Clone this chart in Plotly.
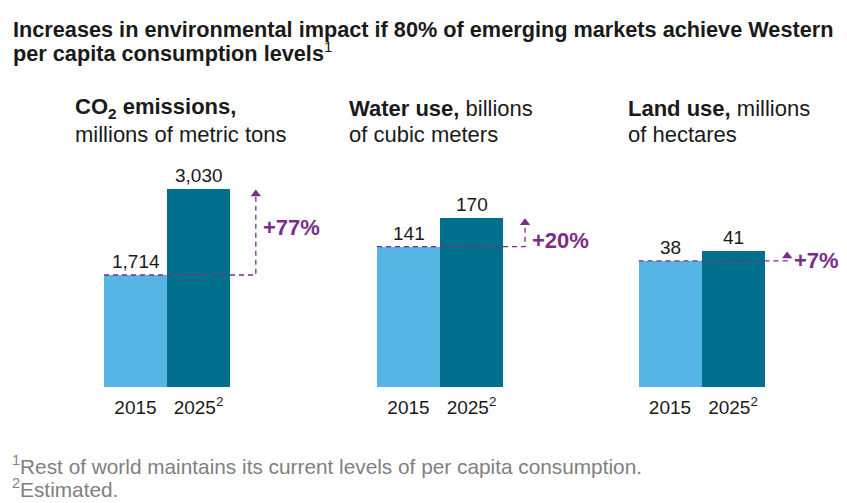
import plotly.graph_objs as go

# Donnees
years = ["2015", "2025<sup>2</sup>"]
co2_values = [1714, 3030]
water_values = [141, 170]
land_values = [38, 41]
pct_labels = ["+77%", "+20%", "+7%"]

panel_titles = [
    ("<b>CO<sub>2</sub> emissions,</b>", "millions of metric tons"),
    ("<b>Water use,</b> billions", "of cubic meters"),
    ("<b>Land use,</b> millions", "of hectares"),
]

title_lines = [
    "<b>Increases in environmental impact if 80% of emerging markets achieve Western</b>",
    "<b>per capita consumption levels</b><sup>1</sup>",
]
footnotes = [
    "<sup>1</sup>Rest of world maintains its current levels of per capita consumption.",
    "<sup>2</sup>Estimated.",
]

# Couleurs et mise en page
LIGHT = "#56b5e5"
DARK = "#00708c"
PURPLE = "#7a2e8a"
TEXT = "#1a1a1a"
GREY = "#808080"
FONT = "Liberation Sans, Arial, sans-serif"

# la page ajoute une marge de 8px autour de la figure
OFF = 8
W, H = 847 - 2 * OFF, 503 - OFF

def px(x):
    return (x - OFF) / W

def py(y):
    return 1 - (y - OFF) / H

unit_px = 63                     # largeur d'une barre en pixels
left_px = [104, 377, 638.5]      # bord gauche de la premiere barre
sub_px = [73, 347, 626]          # bord gauche des sous-titres
y_ranges = [3321, 218, 65.4]     # echelle propre a chaque panneau
arrow_x = [1.91, 1.85, 1.86]     # position de la fleche en unites d'axe
pct_shift = [5, -8, -5]          # decalage vertical des pourcentages
y_bottom, y_top = 387, 170       # pixels

panels = [co2_values, water_values, land_values]

fig = go.Figure()
annotations = []

for i, vals in enumerate(panels):
    xa = "x" if i == 0 else "x%d" % (i + 1)
    ya = "y" if i == 0 else "y%d" % (i + 1)

    fig.add_trace(go.Bar(
        x=[0, 1], y=vals, width=1,
        marker=dict(color=[LIGHT, DARK], line=dict(width=0)),
        xaxis=xa, yaxis=ya, showlegend=False, hoverinfo="skip",
    ))

    # ligne pointillee + fleche
    px_unit = y_ranges[i] / (y_bottom - y_top)
    tip = vals[1] - 5 * px_unit
    fig.add_trace(go.Scatter(
        x=[-0.5, arrow_x[i], arrow_x[i]],
        y=[vals[0], vals[0], tip],
        mode="lines", line=dict(color=PURPLE, width=1.3, dash="5px,4px"),
        xaxis=xa, yaxis=ya, showlegend=False, hoverinfo="skip",
    ))
    fig.add_trace(go.Scatter(
        x=[arrow_x[i]], y=[tip], mode="markers",
        marker=dict(symbol="triangle-up", size=9, color=PURPLE),
        xaxis=xa, yaxis=ya, showlegend=False, hoverinfo="skip", cliponaxis=False,
    ))

    # valeurs au-dessus des barres
    for j, v in enumerate(vals):
        annotations.append(dict(
            x=j, y=v, xref=xa, yref=ya, text="{:,}".format(v),
            showarrow=False, yanchor="bottom", yshift=1,
            font=dict(size=19, color=TEXT, family=FONT),
        ))

    # pourcentage
    annotations.append(dict(
        x=arrow_x[i], y=(vals[0] + vals[1]) / 2, xref=xa, yref=ya,
        text="<b>%s</b>" % pct_labels[i], showarrow=False,
        xanchor="left", yanchor="middle", xshift=5, yshift=pct_shift[i],
        font=dict(size=22, color=PURPLE, family=FONT),
    ))

    # titres des panneaux
    for k, line in enumerate(panel_titles[i]):
        annotations.append(dict(
            x=px(sub_px[i]), y=py(108.5 + 26 * k),
            xref="paper", yref="paper", text=line, showarrow=False,
            xanchor="left", yanchor="middle",
            font=dict(size=22, color=TEXT, family=FONT),
        ))

for k, line in enumerate(title_lines):
    annotations.append(dict(
        x=px(11), y=py(30 + 22 * k), xref="paper", yref="paper",
        text=line, showarrow=False, xanchor="left", yanchor="middle",
        font=dict(size=21.7, color=TEXT, family=FONT),
    ))

for k, line in enumerate(footnotes):
    annotations.append(dict(
        x=px(10), y=py(465 + 23 * k), xref="paper", yref="paper",
        text=line, showarrow=False, xanchor="left", yanchor="middle",
        font=dict(size=20.8, color=GREY, family=FONT),
    ))

layout = dict(
    width=W, height=H,
    margin=dict(l=0, r=0, t=0, b=0),
    paper_bgcolor="white", plot_bgcolor="white",
    font=dict(family=FONT, color=TEXT),
    annotations=annotations,
    bargap=0,
)

for i in range(3):
    suffix = "" if i == 0 else str(i + 1)
    layout["xaxis" + suffix] = dict(
        domain=[px(left_px[i]), px(left_px[i] + 2.5 * unit_px)],
        range=[-0.5, 2.0], anchor="y" + suffix,
        tickvals=[0, 1], ticktext=years, showgrid=False, zeroline=False,
        showline=False, ticks="", ticklabelstandoff=7,
        tickfont=dict(size=19, color=TEXT),
    )
    layout["yaxis" + suffix] = dict(
        domain=[py(y_bottom), py(y_top)], range=[0, y_ranges[i]],
        anchor="x" + suffix, visible=False,
    )

fig.update_layout(**layout)
fig.write_html("out.html")
